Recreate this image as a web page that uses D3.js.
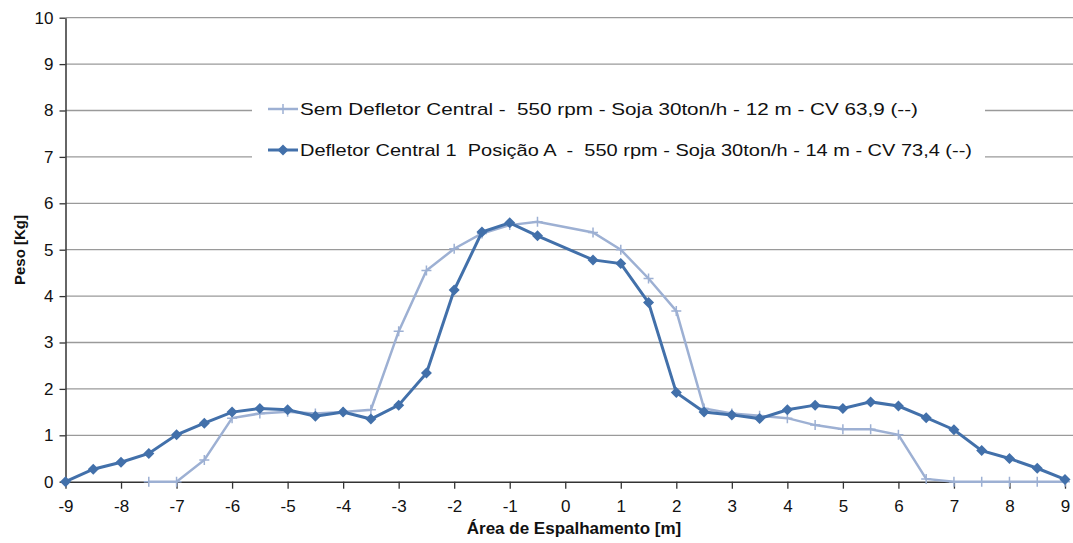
<!DOCTYPE html>
<html>
<head>
<meta charset="utf-8">
<script src="https://cdn.jsdelivr.net/npm/d3@7"></script>
<style>
  body { margin: 0; background: white; }
  text { font-family: 'Liberation Sans', Arial, sans-serif; }
</style>
</head>
<body>
<script>
const yTicks = [0, 1, 2, 3, 4, 5, 6, 7, 8, 9, 10]
const xTicks = [-9, -8, -7, -6, -5, -4, -3, -2, -1, 0, 1, 2, 3, 4, 5, 6, 7, 8, 9]

const xSem = [-7.5, -7, -6.5, -6, -5.5, -5, -4.5, -4, -3.5, -3, -2.5, -2, -1.5, -1, -0.5,
  0.5, 1, 1.5, 2, 2.5, 3, 3.5, 4, 4.5, 5, 5.5, 6, 6.5, 7, 7.5, 8, 8.5, 9]
const ySem = [0, 0, 0.47, 1.37, 1.47, 1.51, 1.47, 1.50, 1.55, 3.24, 4.55, 5.02, 5.35, 5.53, 5.60,
  5.37, 5.00, 4.38, 3.68, 1.58, 1.47, 1.42, 1.37, 1.22, 1.13, 1.13, 1.01, 0.06, 0, 0, 0, 0, 0]

const xDef = [-9, -8.5, -8, -7.5, -7, -6.5, -6, -5.5, -5, -4.5, -4, -3.5, -3, -2.5, -2, -1.5, -1, -0.5,
  0.5, 1, 1.5, 2, 2.5, 3, 3.5, 4, 4.5, 5, 5.5, 6, 6.5, 7, 7.5, 8, 8.5, 9]
const yDef = [0, 0.27, 0.42, 0.61, 1.01, 1.26, 1.50, 1.58, 1.55, 1.41, 1.50, 1.35, 1.65, 2.34, 4.13, 5.38, 5.58, 5.30,
  4.78, 4.70, 3.86, 1.92, 1.50, 1.44, 1.36, 1.55, 1.65, 1.58, 1.72, 1.63, 1.38, 1.12, 0.67, 0.50, 0.29, 0.05]

const legendLabels = [
  'Sem Defletor Central -  550 rpm - Soja 30ton/h - 12 m - CV 63,9 (--)',
  'Defletor Central 1  Posição A  -  550 rpm - Soja 30ton/h - 14 m - CV 73,4 (--)'
]

const lightColor = '#9db0d3'
const darkColor = '#4270aa'

const svg = d3.select('body').append('svg')
    .attr('width', 1073)
    .attr('height', 543)

const xScale = d3.scaleLinear()
    .domain([-9, 9])
    .range([65.5, 1065])

const yScale = d3.scaleLinear()
    .domain([0, 10])
    .range([481.7, 17.7])

// gridlines
svg.append('g')
    .selectAll('line')
    .data(yTicks.slice(1))
    .join('line')
    .attr('x1', xScale(-9))
    .attr('x2', 1073)
    .attr('y1', d => yScale(d))
    .attr('y2', d => yScale(d))
    .style('stroke', '#9a9a9a')
    .style('stroke-width', 1.3)

// legend background hides the gridlines behind it
svg.append('rect')
    .attr('x', 252)
    .attr('y', 88)
    .attr('width', 733)
    .attr('height', 84)
    .style('fill', 'white')

const yAxis = svg.append('g')
    .attr('transform', `translate(${xScale(-9)}, 0)`)
    .call(d3.axisLeft(yScale).tickValues(yTicks).tickSize(6).tickSizeOuter(0).tickFormat(d => String(d)))
yAxis.select('.domain').style('stroke', '#333').style('stroke-width', 1.5)
yAxis.selectAll('.tick line').style('stroke', '#333').style('stroke-width', 1.3)
yAxis.selectAll('.tick text')
    .attr('x', -12)
    .style('font-size', '17px')
    .style('fill', '#111')
    .style('font-family', "'Liberation Sans', Arial, sans-serif")

const xAxis = svg.append('g')
    .attr('transform', `translate(0, ${yScale(0)})`)
    .call(d3.axisBottom(xScale).tickValues(xTicks).tickSize(7).tickSizeOuter(0).tickFormat(d => String(d)))
xAxis.select('.domain').style('stroke', '#333').style('stroke-width', 1.5)
xAxis.selectAll('.tick line').style('stroke', '#333').style('stroke-width', 1.3)
xAxis.selectAll('.tick text')
    .attr('y', 18)
    .style('font-size', '17px')
    .style('fill', '#111')
    .style('font-family', "'Liberation Sans', Arial, sans-serif")

const lineSem = d3.line()
    .x((d, i) => xScale(xSem[i]))
    .y(d => yScale(d))

const lineDef = d3.line()
    .x((d, i) => xScale(xDef[i]))
    .y(d => yScale(d))

const plusPath = 'M-5,0H5M0,-5V5'
const diamondPath = 'M0,-5.5L5.5,0L0,5.5L-5.5,0Z'

svg.append('path')
    .datum(ySem)
    .style('stroke', lightColor)
    .style('stroke-width', 2.5)
    .style('fill', 'none')
    .attr('d', lineSem)

svg.append('g')
    .selectAll('path')
    .data(ySem)
    .join('path')
    .attr('transform', (d, i) => `translate(${xScale(xSem[i])}, ${yScale(d)})`)
    .attr('d', plusPath)
    .style('stroke', lightColor)
    .style('stroke-width', 1.5)

svg.append('path')
    .datum(yDef)
    .style('stroke', darkColor)
    .style('stroke-width', 3)
    .style('fill', 'none')
    .attr('d', lineDef)

svg.append('g')
    .selectAll('path')
    .data(yDef)
    .join('path')
    .attr('transform', (d, i) => `translate(${xScale(xDef[i])}, ${yScale(d)})`)
    .attr('d', diamondPath)
    .style('fill', darkColor)

// legend
const legend = svg.append('g')
const legendY = [109, 150]
const legendWidths = [618, 672]

legend.append('line')
    .attr('x1', 268).attr('x2', 298)
    .attr('y1', legendY[0]).attr('y2', legendY[0])
    .style('stroke', lightColor).style('stroke-width', 2.5)
legend.append('path')
    .attr('transform', `translate(283, ${legendY[0]})`)
    .attr('d', plusPath)
    .style('stroke', lightColor).style('stroke-width', 1.5)

legend.append('line')
    .attr('x1', 268).attr('x2', 298)
    .attr('y1', legendY[1]).attr('y2', legendY[1])
    .style('stroke', darkColor).style('stroke-width', 3)
legend.append('path')
    .attr('transform', `translate(283, ${legendY[1]})`)
    .attr('d', diamondPath)
    .style('fill', darkColor)

legend.selectAll('text')
    .data(legendLabels)
    .join('text')
    .attr('x', 300)
    .attr('y', (d, i) => legendY[i] + 6)
    .attr('textLength', (d, i) => legendWidths[i])
    .attr('lengthAdjust', 'spacingAndGlyphs')
    .style('font-size', '17px')
    .style('fill', '#111')
    .style('white-space', 'pre')
    .text(d => d)

// axis titles
svg.append('text')
    .attr('x', 574)
    .attr('y', 534)
    .attr('text-anchor', 'middle')
    .style('font-size', '17px')
    .style('font-weight', 'bold')
    .style('fill', '#111')
    .text('Área de Espalhamento [m]')

svg.append('text')
    .attr('transform', 'translate(25, 250) rotate(-90)')
    .attr('text-anchor', 'middle')
    .style('font-size', '15px')
    .style('font-weight', 'bold')
    .style('fill', '#111')
    .text('Peso [Kg]')
</script>
</body>
</html>
